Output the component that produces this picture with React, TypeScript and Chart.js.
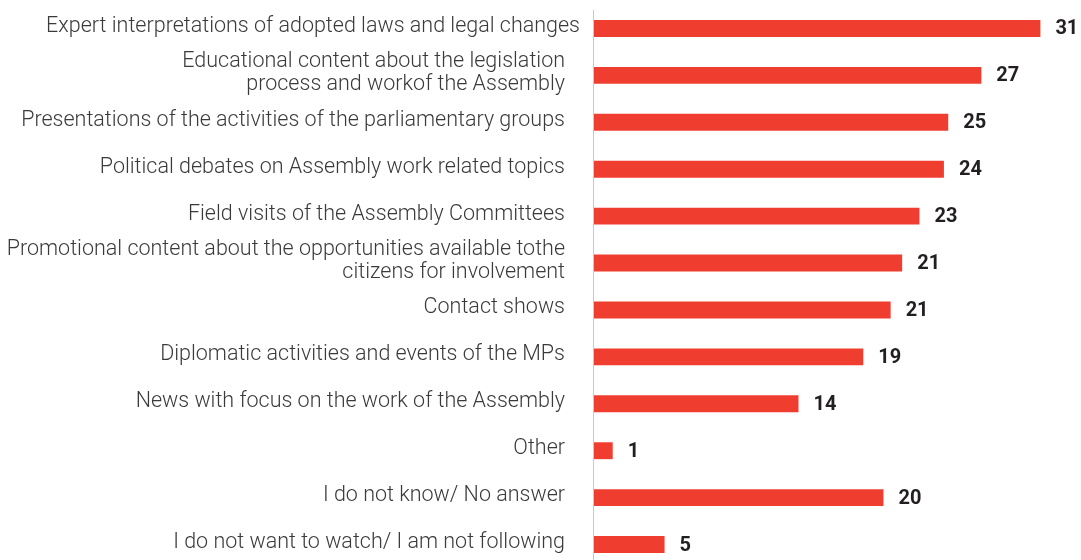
import React, { useEffect, useRef } from "react";
import { Chart, registerables } from "chart.js";

Chart.register(...registerables);

const categories: (string | string[])[] = [
  "Expert interpretations of adopted laws and legal changes",
  ["Educational content about the legislation", "process and workof the Assembly"],
  "Presentations of the activities of the parliamentary groups",
  "Political debates on Assembly work related topics",
  "Field visits of the Assembly Committees",
  ["Promotional content about the opportunities available tothe", "citizens for involvement"],
  "Contact shows",
  "Diplomatic activities and events of the MPs",
  "News with focus on the work of the Assembly",
  "Other",
  "I do not know/ No answer",
  "I do not want to watch/ I am not following",
];

// bar lengths (percent)
const values: number[] = [31.0, 26.9, 24.6, 24.3, 22.6, 21.4, 20.6, 18.7, 14.2, 1.3, 20.1, 4.9];
// value labels as printed
const valueLabels: string[] = ["31", "27", "25", "24", "23", "21", "21", "19", "14", "1", "20", "5"];

const BAR_COLOR = "#ef3e30";
const LABEL_FONT = "300 21.5px Roboto";
const LINE_H = 23;

const valueLabelPlugin = {
  id: "valueLabels",
  afterDatasetsDraw(chart: any) {
    const ctx = chart.ctx;
    const meta = chart.getDatasetMeta(0);
    ctx.save();
    ctx.font = "bold 20px Roboto";
    ctx.fillStyle = "#231f20";
    ctx.textAlign = "left";
    ctx.textBaseline = "middle";
    meta.data.forEach((bar: any, i: number) => {
      ctx.fillText(valueLabels[i], bar.x + 15, bar.y + 1);
    });
    ctx.restore();
  },
};

const categoryLabelPlugin = {
  id: "categoryLabels",
  afterDraw(chart: any) {
    const ctx = chart.ctx;
    const yScale = chart.scales.y;
    const xScale = chart.scales.x;
    const left = xScale.getPixelForValue(0);
    ctx.save();
    ctx.strokeStyle = "#c8c8c8";
    ctx.lineWidth = 1;
    ctx.beginPath();
    ctx.moveTo(Math.round(left) - 0.5, 10);
    ctx.lineTo(Math.round(left) - 0.5, chart.chartArea.bottom);
    ctx.stroke();
    ctx.font = LABEL_FONT;
    ctx.fillStyle = "#3a3a3a";
    ctx.textAlign = "right";
    ctx.textBaseline = "middle";
    categories.forEach((c, i) => {
      const lines = Array.isArray(c) ? c : [c];
      const cy = yScale.getPixelForValue(i) - 2;
      const x = left - 29 + (i === 0 ? 15 : 0);
      const start = cy - ((lines.length - 1) * LINE_H) / 2;
      lines.forEach((ln, j) => ctx.fillText(ln, x, start + j * LINE_H));
    });
    ctx.restore();
  },
};

export default function App() {
  const ref = useRef<HTMLCanvasElement>(null);
  useEffect(() => {
    if (!ref.current) return;
    const chart = new Chart(ref.current, {
      type: "bar",
      data: {
        labels: categories.map((c) => (Array.isArray(c) ? c.join(" ") : c)),
        datasets: [
          {
            data: values,
            backgroundColor: BAR_COLOR,
            borderWidth: 0,
            barPercentage: 0.36,
            categoryPercentage: 1,
          },
        ],
      },
      options: {
        indexAxis: "y",
        animation: false,
        responsive: true,
        maintainAspectRatio: false,
        layout: { padding: { top: 5, bottom: 0, left: 0, right: 0 } },
        plugins: { legend: { display: false }, tooltip: { enabled: false } },
        scales: {
          x: {
            display: false,
            min: 0,
            max: 33.82,
          },
          y: {
            afterFit: (scale: any) => {
              scale.width = 594;
            },
            grid: { display: false, drawTicks: false },
            border: { display: false },
            ticks: { display: false },
          },
        },
      },
      plugins: [valueLabelPlugin, categoryLabelPlugin],
    });
    return () => chart.destroy();
  }, []);
  return (
    <div style={{ position: "absolute", left: 0, top: 0, width: 1081, height: 560, overflow: "hidden", background: "#fff" }}>
      <div style={{ position: "relative", width: 1081, height: 568 }}>
        <canvas ref={ref} />
      </div>
    </div>
  );
}
